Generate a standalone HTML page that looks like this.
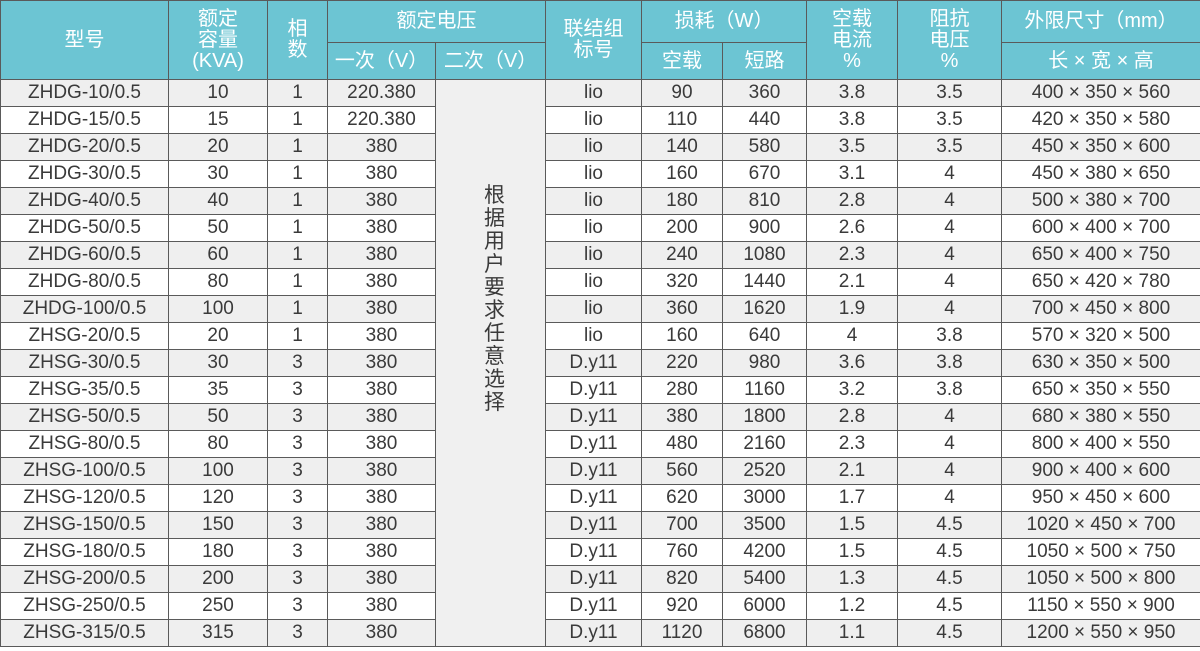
<!DOCTYPE html>
<html><head><meta charset="utf-8"><style>
html,body{margin:0;padding:0;background:#fff;}
body{width:1200px;height:651px;overflow:hidden;}
table{border-collapse:collapse;table-layout:fixed;width:1200px;font-family:"Liberation Sans","Noto Sans CJK SC",sans-serif;color:#3a3a3a;}
td,th{border:1px solid #5a5a5a;text-align:center;padding:0;font-weight:normal;white-space:nowrap;overflow:hidden;}
th{background:#6cc5d3;color:#fff;font-size:20px;line-height:21px;}
td{font-size:19px;height:26px;line-height:26px;}
tbody tr:nth-child(odd) td{background:#efefef;}
tbody tr:nth-child(even) td{background:#fff;}
td.m{background:#f0f0f0 !important;vertical-align:top;}
.v{display:inline-block;width:22px;font-size:21px;line-height:23px;white-space:normal;margin-left:8px;margin-top:104px;}
</style></head><body>
<table>
<colgroup><col style="width:168px"><col style="width:99px"><col style="width:60px"><col style="width:108px"><col style="width:110px"><col style="width:96px"><col style="width:81px"><col style="width:84px"><col style="width:91px"><col style="width:104px"><col style="width:199px"></colgroup>
<thead>
<tr style="height:42px"><th rowspan="2">型号</th><th rowspan="2">额定<br>容量<br>(KVA)</th><th rowspan="2">相<br>数</th><th colspan="2">额定电压</th><th rowspan="2">联结组<br>标号</th><th colspan="2">损耗（W）</th><th rowspan="2">空载<br>电流<br>%</th><th rowspan="2">阻抗<br>电压<br>%</th><th>外限尺寸（mm）</th></tr>
<tr style="height:37px"><th>一次（V）</th><th>二次（V）</th><th>空载</th><th>短路</th><th>长 × 宽 × 高</th></tr>
</thead>
<tbody>
<tr><td>ZHDG-10/0.5</td><td>10</td><td>1</td><td>220.380</td><td class="m" rowspan="21"><span class="v">根据用户要求任意选择</span></td><td>lio</td><td>90</td><td>360</td><td>3.8</td><td>3.5</td><td>400 × 350 × 560</td></tr>
<tr><td>ZHDG-15/0.5</td><td>15</td><td>1</td><td>220.380</td><td>lio</td><td>110</td><td>440</td><td>3.8</td><td>3.5</td><td>420 × 350 × 580</td></tr>
<tr><td>ZHDG-20/0.5</td><td>20</td><td>1</td><td>380</td><td>lio</td><td>140</td><td>580</td><td>3.5</td><td>3.5</td><td>450 × 350 × 600</td></tr>
<tr><td>ZHDG-30/0.5</td><td>30</td><td>1</td><td>380</td><td>lio</td><td>160</td><td>670</td><td>3.1</td><td>4</td><td>450 × 380 × 650</td></tr>
<tr><td>ZHDG-40/0.5</td><td>40</td><td>1</td><td>380</td><td>lio</td><td>180</td><td>810</td><td>2.8</td><td>4</td><td>500 × 380 × 700</td></tr>
<tr><td>ZHDG-50/0.5</td><td>50</td><td>1</td><td>380</td><td>lio</td><td>200</td><td>900</td><td>2.6</td><td>4</td><td>600 × 400 × 700</td></tr>
<tr><td>ZHDG-60/0.5</td><td>60</td><td>1</td><td>380</td><td>lio</td><td>240</td><td>1080</td><td>2.3</td><td>4</td><td>650 × 400 × 750</td></tr>
<tr><td>ZHDG-80/0.5</td><td>80</td><td>1</td><td>380</td><td>lio</td><td>320</td><td>1440</td><td>2.1</td><td>4</td><td>650 × 420 × 780</td></tr>
<tr><td>ZHDG-100/0.5</td><td>100</td><td>1</td><td>380</td><td>lio</td><td>360</td><td>1620</td><td>1.9</td><td>4</td><td>700 × 450 × 800</td></tr>
<tr><td>ZHSG-20/0.5</td><td>20</td><td>1</td><td>380</td><td>lio</td><td>160</td><td>640</td><td>4</td><td>3.8</td><td>570 × 320 × 500</td></tr>
<tr><td>ZHSG-30/0.5</td><td>30</td><td>3</td><td>380</td><td>D.y11</td><td>220</td><td>980</td><td>3.6</td><td>3.8</td><td>630 × 350 × 500</td></tr>
<tr><td>ZHSG-35/0.5</td><td>35</td><td>3</td><td>380</td><td>D.y11</td><td>280</td><td>1160</td><td>3.2</td><td>3.8</td><td>650 × 350 × 550</td></tr>
<tr><td>ZHSG-50/0.5</td><td>50</td><td>3</td><td>380</td><td>D.y11</td><td>380</td><td>1800</td><td>2.8</td><td>4</td><td>680 × 380 × 550</td></tr>
<tr><td>ZHSG-80/0.5</td><td>80</td><td>3</td><td>380</td><td>D.y11</td><td>480</td><td>2160</td><td>2.3</td><td>4</td><td>800 × 400 × 550</td></tr>
<tr><td>ZHSG-100/0.5</td><td>100</td><td>3</td><td>380</td><td>D.y11</td><td>560</td><td>2520</td><td>2.1</td><td>4</td><td>900 × 400 × 600</td></tr>
<tr><td>ZHSG-120/0.5</td><td>120</td><td>3</td><td>380</td><td>D.y11</td><td>620</td><td>3000</td><td>1.7</td><td>4</td><td>950 × 450 × 600</td></tr>
<tr><td>ZHSG-150/0.5</td><td>150</td><td>3</td><td>380</td><td>D.y11</td><td>700</td><td>3500</td><td>1.5</td><td>4.5</td><td>1020 × 450 × 700</td></tr>
<tr><td>ZHSG-180/0.5</td><td>180</td><td>3</td><td>380</td><td>D.y11</td><td>760</td><td>4200</td><td>1.5</td><td>4.5</td><td>1050 × 500 × 750</td></tr>
<tr><td>ZHSG-200/0.5</td><td>200</td><td>3</td><td>380</td><td>D.y11</td><td>820</td><td>5400</td><td>1.3</td><td>4.5</td><td>1050 × 500 × 800</td></tr>
<tr><td>ZHSG-250/0.5</td><td>250</td><td>3</td><td>380</td><td>D.y11</td><td>920</td><td>6000</td><td>1.2</td><td>4.5</td><td>1150 × 550 × 900</td></tr>
<tr><td>ZHSG-315/0.5</td><td>315</td><td>3</td><td>380</td><td>D.y11</td><td>1120</td><td>6800</td><td>1.1</td><td>4.5</td><td>1200 × 550 × 950</td></tr>
</tbody></table>
</body></html>
